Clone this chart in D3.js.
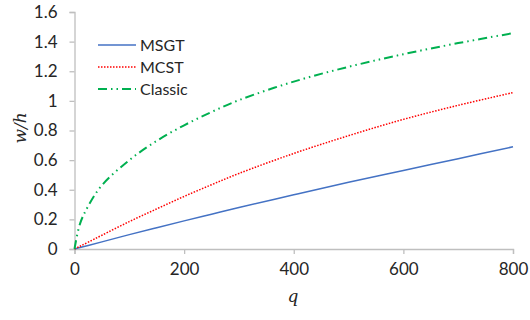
<!DOCTYPE html>
<html><head><meta charset="utf-8">
<script src="https://cdn.jsdelivr.net/npm/d3@7"></script>
<style>body{margin:0;background:#fff}svg{display:block}</style>
</head><body>
<script>
const qValues = [0, 10, 25, 50, 100, 150, 200, 250, 300, 400, 500, 600, 700, 800];
const msgt    = [0, 0.0097, 0.024, 0.048, 0.097, 0.144, 0.19, 0.235, 0.28, 0.366, 0.45, 0.53, 0.61, 0.69];
const mcst    = [0, 0.0185, 0.046, 0.093, 0.185, 0.271, 0.355, 0.434, 0.51, 0.645, 0.765, 0.875, 0.97, 1.056];
const classic = [0, 0.17, 0.29, 0.43, 0.60, 0.73, 0.835, 0.925, 1.005, 1.13, 1.23, 1.315, 1.39, 1.457];
const seriesNames = ["MSGT", "MCST", "Classic"];
const xTicks = [0, 200, 400, 600, 800];
const yTicks = [0, 0.2, 0.4, 0.6, 0.8, 1, 1.2, 1.4, 1.6];

const W = 530, H = 320;
const svg = d3.select("body").append("svg").attr("width", W).attr("height", H);
const x = d3.scaleLinear().domain([0, 800]).range([74.5, 513]);
const y = d3.scaleLinear().domain([0, 1.6]).range([249, 12]);
const axisColor = "#bfbfbf", textColor = "#262626";
const font = "Lato, 'Open Sans', sans-serif";

const gx = svg.append("g").attr("transform", "translate(0,249)")
  .call(d3.axisBottom(x).tickValues(xTicks).tickSize(5).tickPadding(9).tickFormat(d3.format("d")));
const gy = svg.append("g").attr("transform", "translate(74.5,0)")
  .call(d3.axisLeft(y).tickValues(yTicks).tickSize(5).tickPadding(12).tickFormat(d => d3.format("")(d)));
[gx, gy].forEach(g => {
  g.select(".domain").attr("stroke", axisColor).attr("stroke-width", 1.3);
  g.selectAll(".tick line").attr("stroke", axisColor).attr("stroke-width", 1.3);
  g.selectAll(".tick text").attr("fill", textColor).style("font-family", font).style("font-size", "17px");
});

const styles = [
  {color: "#4472C4", dash: null, width: 1.5},
  {color: "#FF0000", dash: "1.5,1.5", width: 1.5},
  {color: "#00B050", dash: "9,4,1.5,4,1.5,4", width: 2}
];
const allSeries = [msgt, mcst, classic];
const line = d3.line().x((d, i) => x(qValues[i])).y(d => y(d)).curve(d3.curveCatmullRom.alpha(0.5));
allSeries.forEach((s, k) => {
  svg.append("path").datum(s).attr("d", line).attr("fill", "none")
    .attr("stroke", styles[k].color).attr("stroke-width", styles[k].width)
    .attr("stroke-dasharray", styles[k].dash);
});

// legend
const lg = svg.append("g");
seriesNames.forEach((n, k) => {
  const ly = 45 + k * 22;
  lg.append("line").attr("x1", 98).attr("x2", 136).attr("y1", ly).attr("y2", ly)
    .attr("stroke", styles[k].color).attr("stroke-width", styles[k].width)
    .attr("stroke-dasharray", styles[k].dash);
  lg.append("text").attr("x", 140).attr("y", ly).attr("dy", "0.35em")
    .attr("fill", textColor).style("font-family", font).style("font-size", "16px").text(n);
});

// axis titles
svg.append("text").attr("transform", "translate(26,128) rotate(-90)")
  .attr("text-anchor", "middle").attr("fill", textColor)
  .style("font-family", "'DejaVu Serif', serif").style("font-style", "italic").style("font-size", "17px")
  .text("w/h");
svg.append("text").attr("x", 293).attr("y", 302).attr("text-anchor", "middle").attr("fill", textColor)
  .style("font-family", "'DejaVu Serif', serif").style("font-style", "italic").style("font-size", "17px")
  .text("q");
</script>
</body></html>
